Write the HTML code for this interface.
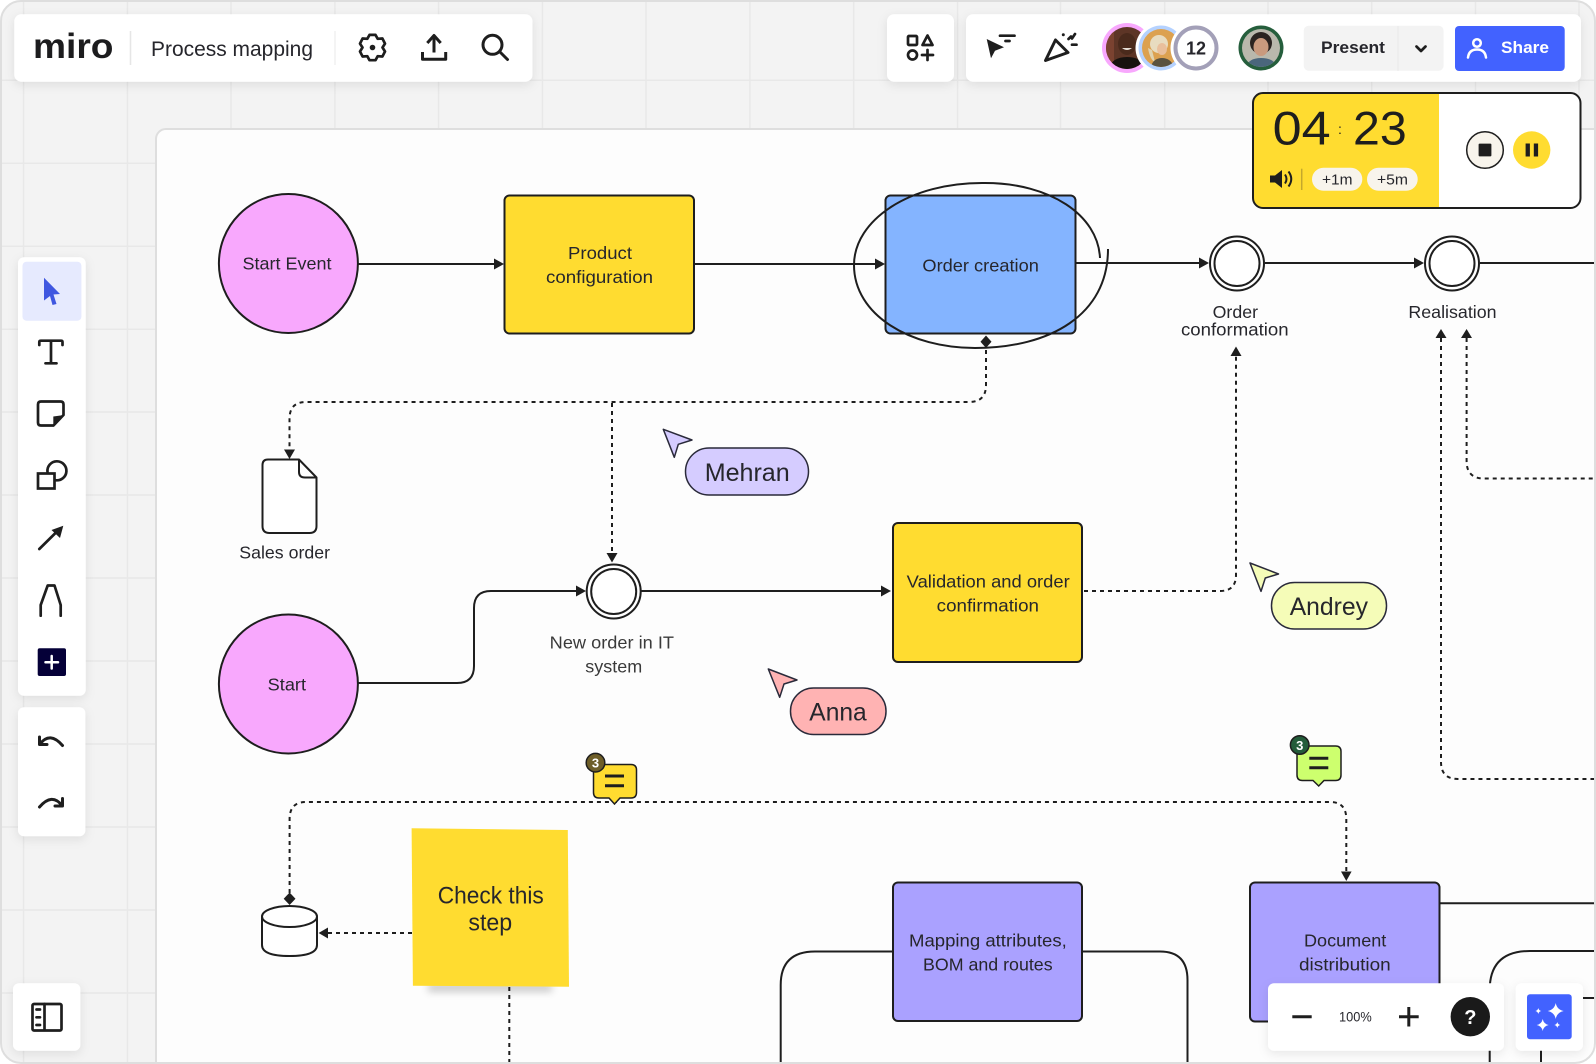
<!DOCTYPE html>
<html><head><meta charset="utf-8"><title>Process mapping</title>
<style>
html,body{margin:0;padding:0;background:#fff;width:1596px;height:1064px;overflow:hidden}
svg{display:block}
text{font-family:"Liberation Sans",sans-serif;fill:#26262c}
.d{fill:none;stroke:#1e1e1e;stroke-width:2;stroke-dasharray:4 4}
.l{fill:none;stroke:#1e1e1e;stroke-width:2}
.i{fill:none;stroke:#1e1e1e;stroke-width:2.700;stroke-linecap:round;stroke-linejoin:round}
.s{stroke:#1e1e1e;stroke-width:2}
.g{stroke:#e8e8e8;stroke-width:1.500}
.b{fill:#1e1e1e}
</style></head><body>
<svg width="1596" height="1064" viewBox="0 0 1596 1064" xmlns="http://www.w3.org/2000/svg">
<defs>
<filter id="sh" x="-20%" y="-20%" width="140%" height="150%"><feDropShadow dx="0" dy="3" stdDeviation="5" flood-color="#000" flood-opacity=".09"/></filter>
<filter id="bl" x="-20%" y="-200%" width="140%" height="500%"><feGaussianBlur stdDeviation="4"/></filter>
<clipPath id="frame"><rect x="1" y="1" width="1594" height="1062" rx="20"/></clipPath>
<clipPath id="a1"><circle cx="1127" cy="48" r="21"/></clipPath>
<clipPath id="a2"><circle cx="1161" cy="48" r="19"/></clipPath>
<clipPath id="a4"><circle cx="1261" cy="48" r="19"/></clipPath>
</defs>
<g clip-path="url(#frame)">
<rect width="1596" height="1064" fill="#f3f3f3"/>
<!-- grid -->
<g class="g">
<path d="M23.600 0V1064M127.400 0V1064M231 0V130M334.900 0V130M438.600 0V130M542.400 0V130M646 0V130M749.900 0V130M853.700 0V130M957.600 0V130M1060.500 0V130M1164.700 0V130M1268 0V130M1371.700 0V130M1475.500 0V130M1579 0V130"/>
<path d="M0 80.300H1596M0 163.300H156M0 246.300H156M0 329.300H156M0 412H156M0 495H156M0 578H156M0 661H156M0 744H156M0 827H156M0 910H156M0 993H156"/>
</g>
<!-- board -->
<rect x="156" y="129" width="1480" height="980" rx="10" fill="#fdfdfd" stroke="#dedede" stroke-width="2"/>

<!-- connectors -->
<path class="l" d="M358 264H496"/><polygon class="b" points="494,258.500 504,264 494,269.500"/>
<path class="l" d="M694 264H876"/><polygon class="b" points="875,258.500 885,264 875,269.500"/>
<path class="l" d="M1075 263H1200"/><polygon class="b" points="1199,257.500 1209,263 1199,268.500"/>
<path class="l" d="M1265 263H1415"/><polygon class="b" points="1414,257.500 1424,263 1414,268.500"/>
<path class="l" d="M1480 263H1596"/>
<path class="l" d="M358 683H457Q474 683 474 666V608Q474 591 491 591H578"/><polygon class="b" points="576,585.500 586,591 576,596.500"/>
<path class="l" d="M641 591H882"/><polygon class="b" points="881,585.500 891,591 881,596.500"/>
<path class="d" d="M986 350V385Q986 402 969 402H306Q289.500 402 289.500 419V450"/>
<polygon class="b" points="284,449.500 295,449.500 289.500,459"/>
<path class="d" d="M612 403V553"/><polygon class="b" points="606.500,553 617.500,553 612,562.500"/>
<path class="d" d="M1084 591H1220Q1236 591 1236 575V356"/><polygon class="b" points="1236,346.500 1241.500,356 1230.500,356"/>
<path class="d" d="M1441 338V762Q1441 779 1458 779H1596"/><polygon class="b" points="1441,329 1446.500,338 1435.500,338"/>
<path class="d" d="M1466.600 338V461Q1466.600 478.500 1484 478.500H1596"/><polygon class="b" points="1466.600,329 1472,338 1461,338"/>
<path class="d" d="M289.600 893V819Q289.600 802 306 802H1330Q1346.300 802 1346.300 819V872"/>
<polygon class="b" points="1341,871.500 1351.600,871.500 1346.300,881"/>
<polygon class="b" points="289.600,892.500 295.500,898.700 289.600,905 283.700,898.700"/>
<path class="d" d="M412 933H328"/><polygon class="b" points="318.600,933 328,927.500 328,938.500"/>
<path class="d" d="M509.300 987V1064"/>
<path class="l" d="M892 951.500H815Q780.700 951.500 780.700 985V1064"/>
<path class="l" d="M1082 951.500H1160Q1187.500 951.500 1187.500 980V1064"/>
<path class="l" d="M1439 903.300H1596"/>
<path class="l" d="M1489.700 1064V990Q1489.700 951 1530 951H1596"/>
<path class="l" d="M1541 1064V1022Q1541 998 1565 998H1596"/>

<!-- top row shapes -->
<circle class="s" cx="288.400" cy="263.500" r="69.500" fill="#f8a8fd"/>
<text x="242.500" y="269.500" font-size="17.500" textLength="89" lengthAdjust="spacingAndGlyphs">Start Event</text>
<rect class="s" x="504.500" y="195.500" width="189.500" height="138" rx="5" fill="#ffdc30"/>
<text x="568" y="259" font-size="17.500" textLength="64" lengthAdjust="spacingAndGlyphs">Product</text>
<text x="546" y="283" font-size="17.500" textLength="107" lengthAdjust="spacingAndGlyphs">configuration</text>
<rect class="s" x="885.500" y="195.500" width="190" height="138" rx="5" fill="#84b4ff"/>
<text x="922.400" y="271.500" font-size="17.500" textLength="116.500" lengthAdjust="spacingAndGlyphs">Order creation</text>
<path class="l" d="M1100 258C1098 215 1050 183 985 183C910 182 854 220 854 265C854 315 910 348 975 348C1050 348 1108 315 1108 249"/>
<polygon class="b" points="986,335.500 991.500,341.700 986,348 980.500,341.700"/>
<circle class="s" cx="1237" cy="263.500" r="27" fill="#fff"/><circle class="s" cx="1237" cy="263.500" r="22.500" fill="#fff"/>
<circle class="s" cx="1452" cy="263.500" r="27" fill="#fff"/><circle class="s" cx="1452" cy="263.500" r="22.500" fill="#fff"/>
<text x="1212.600" y="318" font-size="17.500" textLength="45.400" lengthAdjust="spacingAndGlyphs">Order</text>
<text x="1181" y="335.500" font-size="17.500" textLength="107.600" lengthAdjust="spacingAndGlyphs">conformation</text>
<text x="1408.400" y="318" font-size="17.500" textLength="88.200" lengthAdjust="spacingAndGlyphs">Realisation</text>

<!-- document -->
<path class="s" fill="#fff" stroke-linejoin="round" d="M268 459.500H299L316.500 477.500V526Q316.500 533 309.500 533H269.500Q262.500 533 262.500 526V465Q262.500 459.500 268 459.500Z"/>
<path class="l" d="M299 460V472Q299 477.500 305 477.500H316"/>
<text x="239.300" y="558.300" font-size="17.500" textLength="90.700" lengthAdjust="spacingAndGlyphs">Sales order</text>

<!-- second row -->
<circle class="s" cx="288.400" cy="684" r="69.500" fill="#f8a8fd"/>
<text x="267.700" y="690.500" font-size="17.500" textLength="38.300" lengthAdjust="spacingAndGlyphs">Start</text>
<circle class="s" cx="613.700" cy="591.500" r="27" fill="#fff"/><circle class="s" cx="613.700" cy="591.500" r="22.500" fill="#fff"/>
<text x="549.700" y="648.700" font-size="17.500" textLength="124.300" lengthAdjust="spacingAndGlyphs" style="fill:#3a3a3a">New order in IT</text>
<text x="585.300" y="672.700" font-size="17.500" textLength="57" lengthAdjust="spacingAndGlyphs" style="fill:#3a3a3a">system</text>
<rect class="s" x="893" y="523" width="189" height="139" rx="5" fill="#ffdc30"/>
<text x="906.700" y="587.300" font-size="17.500" textLength="163" lengthAdjust="spacingAndGlyphs">Validation and order</text>
<text x="936.700" y="611.300" font-size="17.500" textLength="102.300" lengthAdjust="spacingAndGlyphs">confirmation</text>

<!-- cursors -->
<polygon points="663.300,429.300 692,440 678.300,444.300 674.300,457.300" fill="#d5ccff" stroke="#2a2a3a" stroke-width="1.500" stroke-linejoin="round"/>
<rect x="685.500" y="448" width="123" height="47" rx="23.500" fill="#d5ccff" stroke="#2a2a3a" stroke-width="1.500"/>
<text x="704.700" y="481" font-size="25" textLength="85" lengthAdjust="spacingAndGlyphs">Mehran</text>
<polygon points="768.300,669 797,680 784,684 779.700,697.300" fill="#ffb3b3" stroke="#2a2a3a" stroke-width="1.500" stroke-linejoin="round"/>
<rect x="790.500" y="688" width="95.500" height="46.500" rx="23" fill="#ffb3b3" stroke="#2a2a3a" stroke-width="1.500"/>
<text x="809.300" y="720.700" font-size="25" textLength="57.400" lengthAdjust="spacingAndGlyphs">Anna</text>
<polygon points="1250,563 1278.500,574 1265.300,578 1261,591.400" fill="#f5fcb8" stroke="#2a2a3a" stroke-width="1.500" stroke-linejoin="round"/>
<rect x="1271.500" y="582.500" width="115" height="46.500" rx="23" fill="#f5fcb8" stroke="#2a2a3a" stroke-width="1.500"/>
<text x="1289.700" y="615" font-size="25" textLength="78.300" lengthAdjust="spacingAndGlyphs">Andrey</text>

<!-- comments -->
<path d="M598 764.500H631Q636.500 764.500 636.500 770V792.500Q636.500 798 631 798H620L614.500 804L609 798H599Q593.500 798 593.500 792.500V770Q593.500 764.500 598 764.500Z" fill="#ffdc30" stroke="#1e1e1e" stroke-width="1.500"/>
<path class="i" style="stroke-linecap:butt;stroke-width:3" d="M605 776H624M605 785.700H624"/>
<circle cx="595.500" cy="762.700" r="9.300" fill="#6e5e28" stroke="#1e1e1e" stroke-width="1.500"/>
<text x="595.500" y="767.500" font-size="13" font-weight="bold" text-anchor="middle" style="fill:#fff">3</text>
<path d="M1302 746H1335.500Q1341 746 1341 751.500V775Q1341 780.500 1335.500 780.500H1324L1318.700 786L1313 780.500H1302.500Q1297 780.500 1297 775V751.500Q1297 746 1302 746Z" fill="#cdff6e" stroke="#1e1e1e" stroke-width="1.500"/>
<path class="i" style="stroke-linecap:butt;stroke-width:3" d="M1309.300 758.300H1328.300M1309.300 767.700H1328.300"/>
<circle cx="1299.700" cy="745" r="9.300" fill="#235c3a" stroke="#1e1e1e" stroke-width="1.500"/>
<text x="1299.700" y="749.800" font-size="13" font-weight="bold" text-anchor="middle" style="fill:#fff">3</text>

<!-- cylinder -->
<path class="s" fill="#fff" d="M262 916.500V945Q262 956 289.500 956Q317 956 317 945V916.500"/>
<ellipse class="s" cx="289.500" cy="916.500" rx="27.500" ry="10.500" fill="#fff"/>

<!-- sticky -->
<rect x="428" y="983" width="124" height="9" fill="#000" opacity=".2" filter="url(#bl)"/>
<polygon points="411.600,828.300 567.800,830 569,986.700 412.900,985.700" fill="#ffdc30"/>
<text x="437.700" y="903.300" font-size="24" textLength="106.100" lengthAdjust="spacingAndGlyphs">Check this</text>
<text x="468.400" y="930.700" font-size="24" textLength="43.800" lengthAdjust="spacingAndGlyphs">step</text>

<!-- purple -->
<rect class="s" x="893" y="882.500" width="189" height="138.500" rx="5" fill="#aaa1ff"/>
<text x="909" y="946.700" font-size="17.500" textLength="157.800" lengthAdjust="spacingAndGlyphs">Mapping attributes,</text>
<text x="923" y="970.700" font-size="17.500" textLength="129.600" lengthAdjust="spacingAndGlyphs">BOM and routes</text>
<rect class="s" x="1250" y="882.500" width="189.500" height="139" rx="5" fill="#aaa1ff"/>
<text x="1304" y="946.700" font-size="17.500" textLength="82.300" lengthAdjust="spacingAndGlyphs">Document</text>
<text x="1299" y="970.700" font-size="17.500" textLength="91.700" lengthAdjust="spacingAndGlyphs">distribution</text>

<!-- top-left panel -->
<rect x="14.300" y="14.300" width="518.200" height="67.400" rx="7" fill="#fff" filter="url(#sh)"/>
<text x="33" y="58.200" font-size="35" font-weight="bold" textLength="80.500" lengthAdjust="spacingAndGlyphs" style="fill:#1c1c1e">miro</text>
<path d="M130.500 31V65" stroke="#e6e6e6" stroke-width="1.500"/><path d="M335 31V65" stroke="#f0f0f0" stroke-width="1.500"/>
<text x="151" y="56" font-size="21.500" textLength="162" lengthAdjust="spacingAndGlyphs">Process mapping</text>
<!-- gear -->
<path class="i" d="M375.500 34.900L377.700 38.800L382.400 38.500L385 43.600L382.500 47.500L385 51.500L382.400 56.500L377.700 56.200L375.500 60.200H369.500L367.300 56.200L362.600 56.500L360 51.500L362.500 47.500L360 43.600L362.600 38.500L367.300 38.800L369.500 34.900Z"/>
<circle cx="372.500" cy="47.500" r="2.800" class="b"/>
<path class="i" d="M434 52.500V36M427.300 43L434 35.500L440.700 43M422.500 52V59.300H445.700V52" style="stroke-linecap:butt;stroke-width:3"/>
<circle class="i" cx="492.500" cy="44.800" r="9.500" style="stroke-width:3"/><path class="i" d="M499.500 51.500L507.500 59.500" style="stroke-width:3"/>

<!-- top-right panels -->
<rect x="887" y="14.300" width="67" height="67.400" rx="7" fill="#fff" filter="url(#sh)"/>
<rect x="966" y="14.300" width="615" height="67.400" rx="7" fill="#fff" filter="url(#sh)"/>
<rect class="i" x="908" y="36" width="9" height="9" rx="1"/>
<path class="i" d="M927.500 35.500L932.500 45H922.500Z"/>
<circle class="i" cx="912.500" cy="55" r="4.500"/>
<path class="i" d="M922 55H933M927.500 50V60"/>
<polygon class="b" points="986.700,39 1004,47.300 995,50.700 991,58.300"/>
<path class="i" d="M1000 35.700H1014.500M1005.500 41H1009.500"/>
<path class="i" d="M1055.500 40L1068 52.500L1045.500 60.500Z" style="stroke-width:3"/>
<circle cx="1063.300" cy="34.700" r="1.500" class="b"/>
<path class="i" d="M1068.500 39L1071 36.500L1072 38.500L1075 34"/>
<path class="i" d="M1072 44.700H1076.500"/>

<!-- avatars -->
<circle cx="1127" cy="48" r="25" fill="#f8a8fd"/>
<circle cx="1127" cy="48" r="21" fill="#5d3526"/>
<g clip-path="url(#a1)"><rect x="1106" y="27" width="8" height="42" fill="#7a4230"/><ellipse cx="1127" cy="44" rx="9" ry="11" fill="#4a2a1c"/><path d="M1108 72Q1110 57 1127 57Q1144 57 1146 72Z" fill="#17120f"/><path d="M1122 48Q1127 52 1132 48Z" fill="#e8e0d8"/></g>
<circle cx="1161" cy="48" r="25.500" fill="#fff"/>
<circle cx="1161" cy="48" r="22.500" fill="#b5d2ff"/>
<circle cx="1161" cy="48" r="19" fill="#dca150"/>
<g clip-path="url(#a2)"><circle cx="1159" cy="44" r="9" fill="#e8dcc0"/><path d="M1148 48Q1150 60 1155 62L1152 50Z" fill="#e0d3b0"/><path d="M1150 70Q1152 58 1162 58Q1172 58 1175 70Z" fill="#5a5240"/><ellipse cx="1162" cy="49" rx="5" ry="6" fill="#e9bf9c"/></g>
<circle cx="1196" cy="48" r="25.500" fill="#fff"/>
<circle cx="1196" cy="48" r="20.500" fill="#fff" stroke="#a3a0b8" stroke-width="4"/>
<text x="1196" y="54.500" font-size="18" font-weight="bold" text-anchor="middle">12</text>
<circle cx="1261" cy="48" r="22.500" fill="#255e3c"/>
<circle cx="1261" cy="48" r="19" fill="#b9b8ac"/>
<g clip-path="url(#a4)"><circle cx="1261" cy="43" r="11" fill="#2a2320"/><ellipse cx="1261" cy="47" rx="7.500" ry="9" fill="#c99a7e"/><path d="M1245 70Q1247 58 1261 58Q1276 58 1278 70Z" fill="#4a667c"/></g>

<!-- present / share -->
<rect x="1303.700" y="25.700" width="139.900" height="45" rx="5" fill="#f3f3f3"/>
<path d="M1398 26V71" stroke="#e9e9e9" stroke-width="1"/>
<text x="1321" y="53" font-size="17" font-weight="bold" textLength="64" lengthAdjust="spacingAndGlyphs">Present</text>
<path class="i" d="M1416.500 46.500L1421 51L1425.500 46.500"/>
<rect x="1455" y="26" width="109.700" height="45" rx="4" fill="#4262ff"/>
<circle cx="1477" cy="43" r="3.800" fill="none" stroke="#fff" stroke-width="2.500"/>
<path d="M1468 57.500Q1469 49.500 1477 49.500Q1485 49.500 1486 57.500" fill="none" stroke="#fff" stroke-width="2.500" stroke-linecap="round"/>
<text x="1501" y="53" font-size="17" font-weight="bold" textLength="48" lengthAdjust="spacingAndGlyphs" style="fill:#fff">Share</text>

<!-- timer -->
<rect x="1253" y="93" width="327.500" height="115" rx="10" fill="#fff"/>
<path d="M1439 93H1263Q1253 93 1253 103V198Q1253 208 1263 208H1439Z" fill="#ffdc30"/>
<rect x="1253" y="93" width="327.500" height="115" rx="10" fill="none" stroke="#1e1e1e" stroke-width="2"/>
<text x="1272.700" y="144.300" font-size="47" textLength="58" lengthAdjust="spacingAndGlyphs" style="fill:#1e1e1e">04</text>
<text x="1353" y="144.300" font-size="47" textLength="53.700" lengthAdjust="spacingAndGlyphs" style="fill:#1e1e1e">23</text>
<text x="1340" y="134" font-size="14" text-anchor="middle" style="fill:#1e1e1e">:</text>
<path d="M1270 175.500H1275L1282 170V188L1275 182.500H1270Z" class="b"/>
<path d="M1285 174.500Q1288 179 1285 183.500M1288.500 171.500Q1294 179 1288.500 186.500" fill="none" stroke="#1e1e1e" stroke-width="2"/>
<path d="M1301.700 168.700V190" stroke="#c4a82c" stroke-width="1.500"/>
<rect x="1312" y="167.700" width="50.300" height="23" rx="11.500" fill="#f8f4ec"/>
<rect x="1367" y="167.700" width="50.700" height="23" rx="11.500" fill="#f8f4ec"/>
<text x="1322" y="184.500" font-size="15" textLength="30.500" lengthAdjust="spacingAndGlyphs">+1m</text>
<text x="1377" y="184.500" font-size="15" textLength="31" lengthAdjust="spacingAndGlyphs">+5m</text>
<circle cx="1485" cy="150" r="18.300" fill="#f8f4ec" stroke="#1e1e1e" stroke-width="1.500"/>
<rect x="1478.600" y="143.600" width="12.800" height="12.800" rx="1" class="b"/>
<circle cx="1531.700" cy="150" r="18.700" fill="#ffdc30"/>
<rect x="1525.600" y="143.500" width="4.300" height="13" class="b"/><rect x="1533.800" y="143.500" width="4.300" height="13" class="b"/>

<!-- left toolbar -->
<rect x="18" y="257.300" width="67.700" height="438.400" rx="6" fill="#fff" filter="url(#sh)"/>
<rect x="22.500" y="261.700" width="58.900" height="59" rx="4" fill="#e6eafe"/>
<path d="M44 277.700L60 294L53.500 294.500L56.500 304L52.500 305L50 296L44 300.500Z" fill="#3f57e0"/>
<path class="i" d="M39.300 345V342Q39.300 340.700 41 340.700H61Q62.500 340.700 62.500 342V345M51 341V363.300M45.500 363.300H56.500"/>
<path class="i" d="M41 401.500H60.500Q63.500 401.500 63.500 404.500V415L53.500 425.500H41Q38 425.500 38 422.500V404.500Q38 401.500 41 401.500Z"/>
<polygon class="b" points="64.300,415 53.300,416.500 53.300,426.700"/>
<rect class="i" x="38" y="473.500" width="16.500" height="15" style="stroke-linecap:butt;stroke-linejoin:miter"/>
<path class="i" d="M47.500 472A9.500 9.500 0 1 1 55.500 480.200"/>
<path class="i" d="M39.300 549L56 532.500"/><polygon class="b" points="63.300,525.700 60,538 51.500,530"/>
<path class="i" d="M40.700 615.700V605L47.700 585.500H54.500L60.700 605V615.700"/>
<rect x="37.700" y="648.300" width="28.300" height="27.700" rx="2" fill="#050038"/>
<path d="M45.500 662.300H58M51.700 656V668.500" stroke="#fff" stroke-width="2.500" stroke-linecap="round"/>

<rect x="18" y="707.300" width="67.400" height="129" rx="6" fill="#fff" filter="url(#sh)"/>
<path class="i" d="M39.500 737V744.500H47M40 744Q50 731 62.500 745.500" style="stroke-width:3"/>
<path class="i" d="M62.500 798.500V806H55M62 805.500Q52 792.500 39.500 807" style="stroke-width:3"/>

<rect x="13" y="983.300" width="67.400" height="67.400" rx="6" fill="#fff" filter="url(#sh)"/>
<rect class="i" x="32.500" y="1004" width="29" height="26.500" rx="1.500"/>
<path class="i" d="M44.500 1004V1030"/>
<path class="i" d="M36.500 1009.500H40M36.500 1017.300H40M36.500 1025H40"/>

<!-- zoom panel -->
<rect x="1268" y="983.300" width="236" height="67.400" rx="6" fill="#fff" filter="url(#sh)"/>
<path class="i" style="stroke-linecap:butt;stroke-width:3" d="M1292.300 1016.700H1311.700"/>
<text x="1339" y="1021.300" font-size="14" textLength="32.700" lengthAdjust="spacingAndGlyphs">100%</text>
<path class="i" style="stroke-linecap:butt;stroke-width:3" d="M1399 1016.700H1418.700M1408.800 1007V1026.500"/>
<circle cx="1470.300" cy="1016.700" r="19.700" fill="#1a1a1a"/>
<text x="1470.300" y="1023.800" font-size="20" font-weight="bold" text-anchor="middle" style="fill:#fff">?</text>
<rect x="1515.700" y="983.300" width="67.300" height="67.400" rx="6" fill="#fff" filter="url(#sh)"/>
<rect x="1527" y="994.300" width="44.700" height="45" rx="3" fill="#4262ff"/>
<g fill="#fff">
<path d="M1555.700 1003Q1557 1009.700 1563.700 1011Q1557 1012.300 1555.700 1019Q1554.400 1012.300 1547.700 1011Q1554.400 1009.700 1555.700 1003Z"/>
<path d="M1542.700 1019Q1543.700 1024 1548.700 1025Q1543.700 1026 1542.700 1031Q1541.700 1026 1536.700 1025Q1541.700 1024 1542.700 1019Z"/>
<path d="M1538.300 1008Q1538.800 1010.500 1541.300 1011Q1538.800 1011.500 1538.300 1014Q1537.800 1011.500 1535.300 1011Q1537.800 1010.500 1538.300 1008Z"/>
<path d="M1557.300 1022Q1557.800 1024.500 1560.300 1025Q1557.800 1025.500 1557.300 1028Q1556.800 1025.500 1554.300 1025Q1556.800 1024.500 1557.300 1022Z"/>
</g>
</g>
<rect x="1" y="1" width="1594" height="1062" rx="20" fill="none" stroke="#dedede" stroke-width="2"/>
</svg>
</body></html>
